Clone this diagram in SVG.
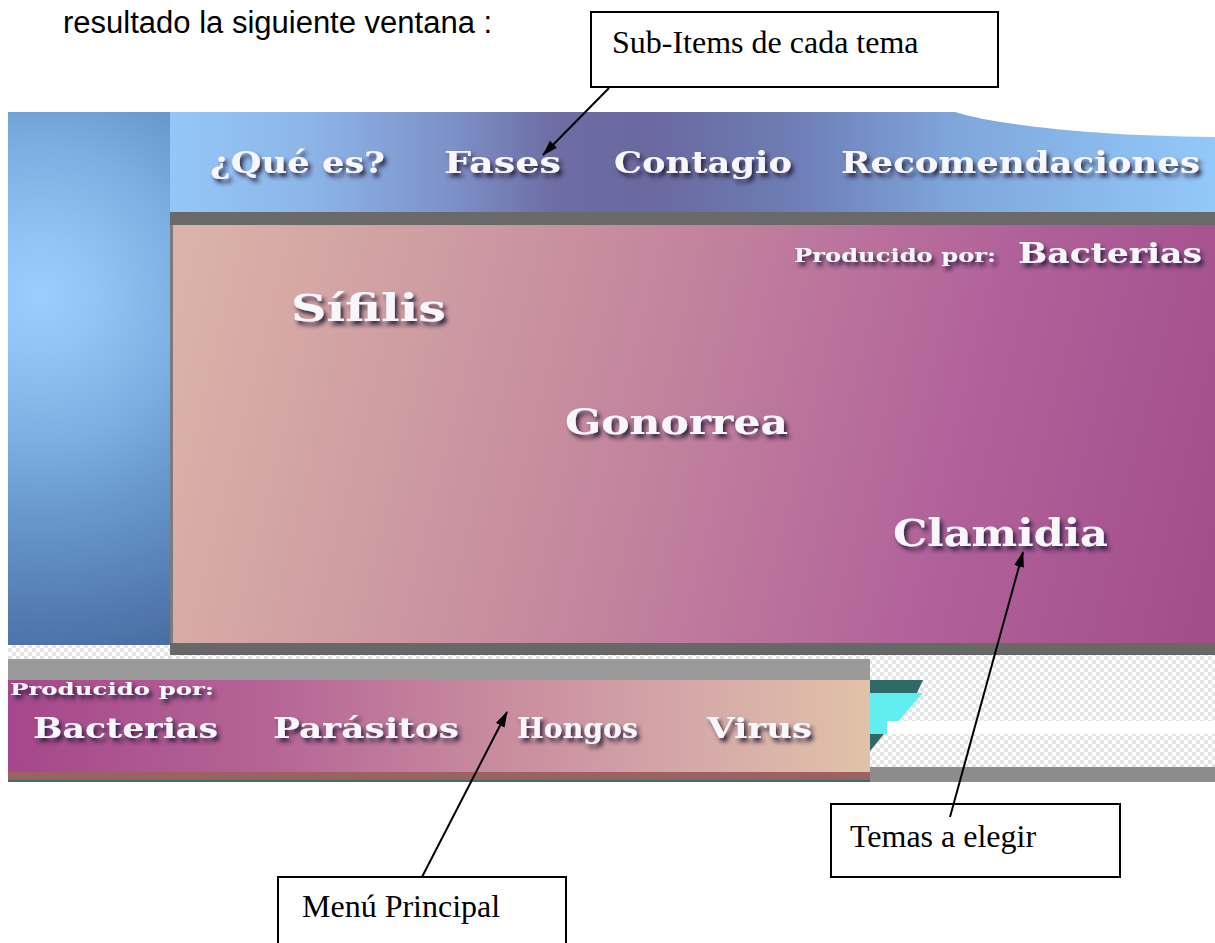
<svg xmlns="http://www.w3.org/2000/svg" width="1215" height="943" viewBox="0 0 1215 943">
<style>
.note{font-family:"Liberation Serif","Times New Roman",serif;font-size:32px;fill:#000}
.box{fill:#fff;stroke:#000;stroke-width:2}
.deco{font-family:"DejaVu Serif",serif;font-weight:bold;fill:#F6F6FB;filter:url(#sh)}
.conn{stroke:#000;stroke-width:2;fill:none;marker-end:url(#ah)}
</style>
<defs>
<filter id="sh" x="-10%" y="-30%" width="130%" height="180%">
<feDropShadow dx="3" dy="4" stdDeviation="2" flood-color="#2a1d3a" flood-opacity="0.9"/>
</filter>
<marker id="ah" viewBox="0 0 16 10" refX="15" refY="5" markerWidth="16" markerHeight="10" markerUnits="userSpaceOnUse" orient="auto">
<path d="M0,0 L16,5 L0,10 Z" fill="#000"/>
</marker>
<pattern id="chk" width="8" height="8" patternUnits="userSpaceOnUse">
<rect width="8" height="8" fill="#FFFFFF"/>
<rect width="4" height="4" fill="#E4E4E4"/>
<rect x="4" y="4" width="4" height="4" fill="#E4E4E4"/>
</pattern>
<radialGradient id="gLeft" gradientUnits="userSpaceOnUse" cx="40" cy="295" r="370">
<stop offset="0" stop-color="#9BCEFF"/>
<stop offset="0.15" stop-color="#92C4F5"/>
<stop offset="0.4" stop-color="#7CAEE1"/>
<stop offset="0.6" stop-color="#6898CB"/>
<stop offset="0.8" stop-color="#5882B8"/>
<stop offset="1" stop-color="#4A6EA4"/>
</radialGradient>
<linearGradient id="gTop" gradientUnits="userSpaceOnUse" x1="170" y1="0" x2="1215" y2="0">
<stop offset="0" stop-color="#94C7F7"/>
<stop offset="0.13" stop-color="#8DB6E8"/>
<stop offset="0.27" stop-color="#7D90C8"/>
<stop offset="0.37" stop-color="#6C6DA3"/>
<stop offset="0.46" stop-color="#69699F"/>
<stop offset="0.6" stop-color="#6E7EB6"/>
<stop offset="0.75" stop-color="#7FA6DB"/>
<stop offset="1" stop-color="#92C9F9"/>
</linearGradient>
<linearGradient id="gMain" gradientUnits="userSpaceOnUse" x1="170" y1="300" x2="1215" y2="560">
<stop offset="0" stop-color="#DBB3A8"/>
<stop offset="0.3" stop-color="#CB95A0"/>
<stop offset="0.5" stop-color="#C07F9D"/>
<stop offset="0.75" stop-color="#B1619A"/>
<stop offset="1" stop-color="#A24E8B"/>
</linearGradient>
<linearGradient id="gMenu" gradientUnits="userSpaceOnUse" x1="8" y1="0" x2="870" y2="0">
<stop offset="0" stop-color="#A5478B"/>
<stop offset="0.3" stop-color="#B56495"/>
<stop offset="0.55" stop-color="#C7899E"/>
<stop offset="0.8" stop-color="#D6A9A8"/>
<stop offset="1" stop-color="#E1C2A8"/>
</linearGradient>
</defs>

<rect width="1215" height="943" fill="#FFFFFF"/>
<text x="63" y="33" font-family="'Liberation Sans',Arial,sans-serif" font-size="31" fill="#000">resultado la siguiente ventana :</text>

<g id="screenshot">
<rect x="8" y="645" width="1207" height="137" fill="url(#chk)"/>
<rect x="8" y="112" width="162" height="533" fill="url(#gLeft)"/>
<rect x="170" y="112" width="1045" height="100" fill="url(#gTop)"/>
<path d="M955,112 C990,123 1080,136 1215,137 L1215,112 Z" fill="#FFFFFF"/>
<rect x="170" y="212" width="1045" height="13" fill="#696969"/>
<rect x="170" y="225" width="1045" height="418" fill="url(#gMain)"/>
<rect x="170" y="225" width="3" height="418" fill="#7A7A80"/>
<rect x="170" y="643" width="1045" height="12" fill="#686868"/>
<rect x="8" y="659" width="862" height="21" fill="#9A9A9A"/>
<rect x="8" y="680" width="862" height="92" fill="url(#gMenu)"/>
<rect x="8" y="772" width="862" height="9" fill="#9B6262"/>
<rect x="8" y="780" width="862" height="2" fill="#3D6F6A"/>
<polygon points="870,680 923,680 917,693 870,693" fill="#2F6A66"/>
<polygon points="870,693 923,693 887,734 870,734" fill="#62EEF0"/>
<rect x="887" y="721" width="328" height="13" fill="#FFFFFF"/>
<polygon points="870,734 884,734 870,751" fill="#2F6A66"/>
<rect x="870" y="767" width="345" height="15" fill="#8C8C8C"/>
</g>

<g id="submenu">
<text class="deco" x="210" y="173" font-size="30" textLength="175" lengthAdjust="spacingAndGlyphs">¿Qué es?</text>
<text class="deco" x="444" y="173" font-size="30" textLength="117" lengthAdjust="spacingAndGlyphs">Fases</text>
<text class="deco" x="614" y="173" font-size="30" textLength="178" lengthAdjust="spacingAndGlyphs">Contagio</text>
<text class="deco" x="841" y="173" font-size="30" textLength="359" lengthAdjust="spacingAndGlyphs">Recomendaciones</text>
</g>

<g id="temas">
<text class="deco" x="794" y="262" font-size="18" textLength="202" lengthAdjust="spacingAndGlyphs">Producido por:</text>
<text class="deco" x="1018" y="263" font-size="27" textLength="184" lengthAdjust="spacingAndGlyphs">Bacterias</text>
<text class="deco" x="291" y="321" font-size="38" textLength="155" lengthAdjust="spacingAndGlyphs">Sífilis</text>
<text class="deco" x="565" y="434" font-size="36" textLength="223" lengthAdjust="spacingAndGlyphs">Gonorrea</text>
<text class="deco" x="893" y="546" font-size="38" textLength="215" lengthAdjust="spacingAndGlyphs">Clamidia</text>
</g>

<g id="menu">
<text class="deco" x="10" y="695" font-size="17" textLength="204" lengthAdjust="spacingAndGlyphs">Producido por:</text>
<text class="deco" x="33" y="738" font-size="27" textLength="185" lengthAdjust="spacingAndGlyphs">Bacterias</text>
<text class="deco" x="273" y="738" font-size="27" textLength="186" lengthAdjust="spacingAndGlyphs">Parásitos</text>
<text class="deco" x="517" y="738" font-size="27" textLength="121" lengthAdjust="spacingAndGlyphs">Hongos</text>
<text class="deco" x="707" y="738" font-size="27" textLength="105" lengthAdjust="spacingAndGlyphs">Virus</text>
</g>

<g id="callout-subitems">
<rect class="box" x="591" y="12" width="407" height="75"/>
<text class="note" x="612" y="53">Sub-Items de cada tema</text>
</g>

<g id="callout-temas">
<rect class="box" x="831" y="804" width="289" height="73"/>
<text class="note" x="850" y="847">Temas a elegir</text>
</g>

<g id="callout-menu">
<path class="box" d="M278,943 L278,877 L566,877 L566,943"/>
<text class="note" x="302" y="917">Menú Principal</text>
</g>

<g id="connectors">
<line class="conn" x1="609" y1="88" x2="543" y2="155"/>
<line class="conn" x1="422" y1="877" x2="507" y2="712"/>
<line class="conn" x1="950" y1="817" x2="1023" y2="552"/>
</g>
</svg>
